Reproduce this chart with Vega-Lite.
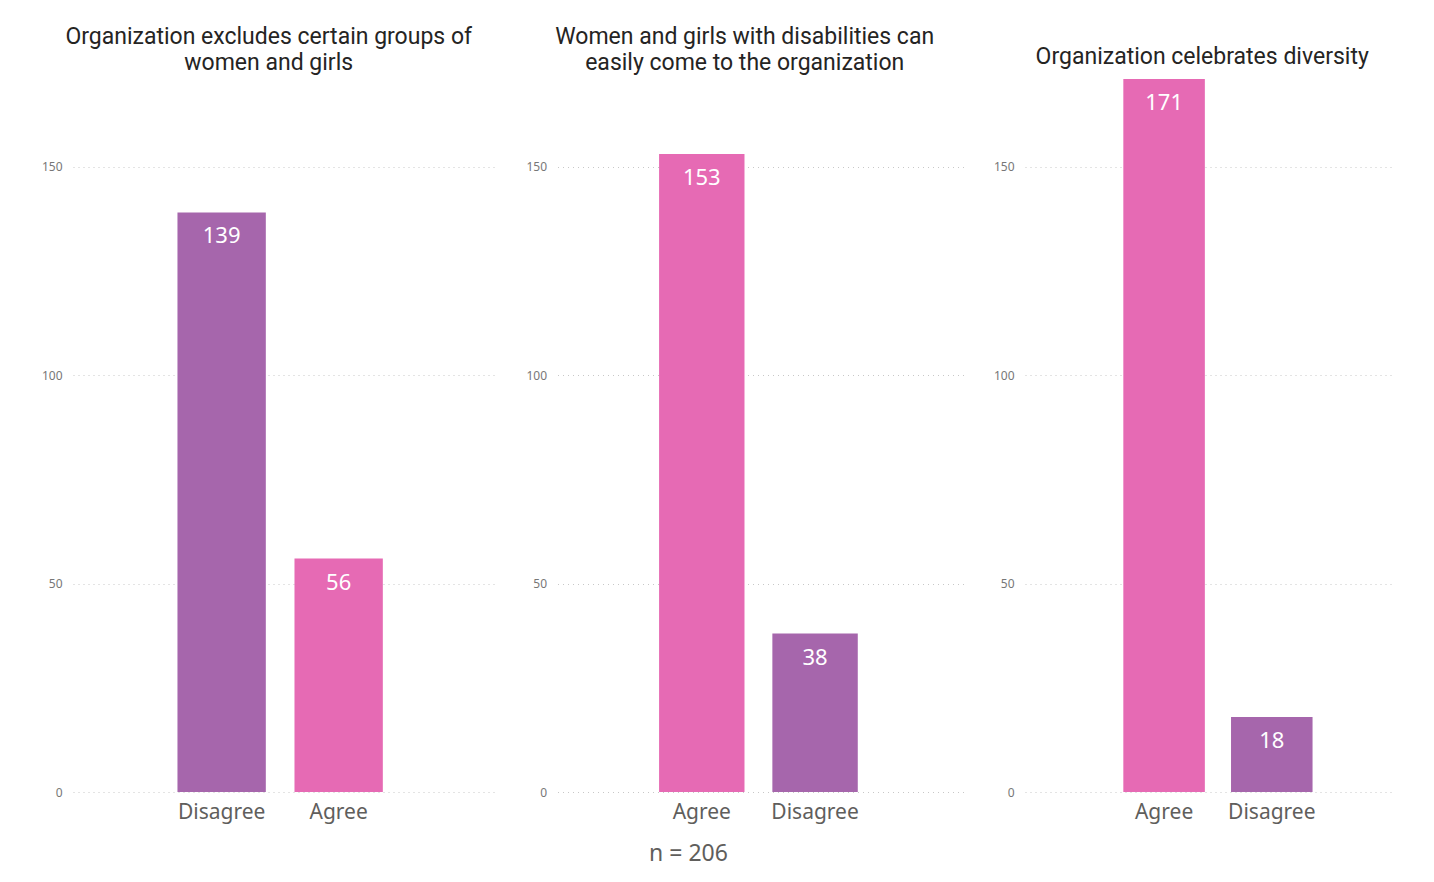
{
  "$schema": "https://vega.github.io/schema/vega-lite/v6.json",
  "background": "white",
  "padding": {"left": 41, "top": 26, "right": 10, "bottom": 10},
  "datasets": {
    "survey": [
      {"question": "q1", "answer": "Disagree", "count": 139},
      {"question": "q1", "answer": "Agree", "count": 56},
      {"question": "q2", "answer": "Agree", "count": 153},
      {"question": "q2", "answer": "Disagree", "count": 38},
      {"question": "q3", "answer": "Agree", "count": 171},
      {"question": "q3", "answer": "Disagree", "count": 18}
    ]
  },
  "bounds": "flush",
  "spacing": 61.5,
  "hconcat": [
    {
      "data": {"name": "survey"},
      "transform": [{"filter": "datum.question === 'q1'"}],
      "width": 423,
      "height": 713,
      "title": {"text": ["Organization excludes certain groups of", "women and girls"], "offset": 3.7},
      "encoding": {
        "x": {"field": "answer", "type": "nominal", "sort": "-y",
              "scale": {"paddingInner": 0.245, "paddingOuter": 0.93, "align": 0.48},
              "axis": {"title": null}},
        "y": {"field": "count", "type": "quantitative",
              "scale": {"domain": [0, 171], "nice": false},
              "axis": {"title": null, "values": [0, 50, 100, 150]}}
      },
      "layer": [
        {"mark": {"type": "bar"},
         "encoding": {"color": {"field": "answer", "type": "nominal", "legend": null,
                                "scale": {"domain": ["Agree", "Disagree"], "range": ["#E66AB4", "#A666AC"]}}}},
        {"mark": {"type": "text", "baseline": "alphabetic", "dy": 31, "color": "white", "font": "Noto Sans", "fontSize": 22},
         "encoding": {"text": {"field": "count", "type": "quantitative"}}}
      ]
    },
    {
      "data": {"name": "survey"},
      "transform": [{"filter": "datum.question === 'q2'"}],
      "width": 406,
      "height": 713,
      "title": {"text": ["Women and girls with disabilities can", "easily come to the organization"], "offset": 3.7},
      "encoding": {
        "x": {"field": "answer", "type": "nominal", "sort": "-y",
              "scale": {"paddingInner": 0.246, "paddingOuter": 0.915, "align": 0.49},
              "axis": {"title": "n = 206", "titleX": 130.5, "titleY": 68, "titleBaseline": "alphabetic",
                       "titleAlign": "center", "titleFont": "Noto Sans", "titleFontSize": 23,
                       "titleFontWeight": "normal", "titleColor": "#605E5C"}},
        "y": {"field": "count", "type": "quantitative",
              "scale": {"domain": [0, 171], "nice": false},
              "axis": {"title": null, "values": [0, 50, 100, 150]}}
      },
      "layer": [
        {"mark": {"type": "bar"},
         "encoding": {"color": {"field": "answer", "type": "nominal", "legend": null,
                                "scale": {"domain": ["Agree", "Disagree"], "range": ["#E66AB4", "#A666AC"]}}}},
        {"mark": {"type": "text", "baseline": "alphabetic", "dy": 31, "color": "white", "font": "Noto Sans", "fontSize": 22},
         "encoding": {"text": {"field": "count", "type": "quantitative"}}}
      ]
    },
    {
      "data": {"name": "survey"},
      "transform": [{"filter": "datum.question === 'q3'"}],
      "width": 368,
      "height": 713,
      "title": {"text": "Organization celebrates diversity", "offset": 9.7, "dx": 9},
      "encoding": {
        "x": {"field": "answer", "type": "nominal", "sort": "-y",
              "scale": {"paddingInner": 0.243, "paddingOuter": 0.83, "align": 0.55},
              "axis": {"title": null}},
        "y": {"field": "count", "type": "quantitative",
              "scale": {"domain": [0, 171], "nice": false},
              "axis": {"title": null, "values": [0, 50, 100, 150]}}
      },
      "layer": [
        {"mark": {"type": "bar"},
         "encoding": {"color": {"field": "answer", "type": "nominal", "legend": null,
                                "scale": {"domain": ["Agree", "Disagree"], "range": ["#E66AB4", "#A666AC"]}}}},
        {"mark": {"type": "text", "baseline": "alphabetic", "dy": 31, "color": "white", "font": "Noto Sans", "fontSize": 22},
         "encoding": {"text": {"field": "count", "type": "quantitative"}}}
      ]
    }
  ],
  "resolve": {"scale": {"color": "shared"}},
  "config": {
    "view": {"stroke": null},
    "axis": {"labelFont": "Noto Sans", "domain": false, "ticks": false},
    "axisY": {"labelFontSize": 12, "labelColor": "#777777", "labelPadding": 11,
              "grid": true, "gridColor": "#c8c8c8", "gridDash": [1, 4], "gridWidth": 1},
    "axisX": {"labelFontSize": 21, "labelColor": "#605E5C", "labelPadding": 9, "labelAngle": 0, "grid": false},
    "title": {"font": "Roboto", "fontSize": 23, "fontWeight": "normal", "color": "#252423",
              "lineHeight": 26, "baseline": "alphabetic", "anchor": "middle", "frame": "bounds"}
  }
}
